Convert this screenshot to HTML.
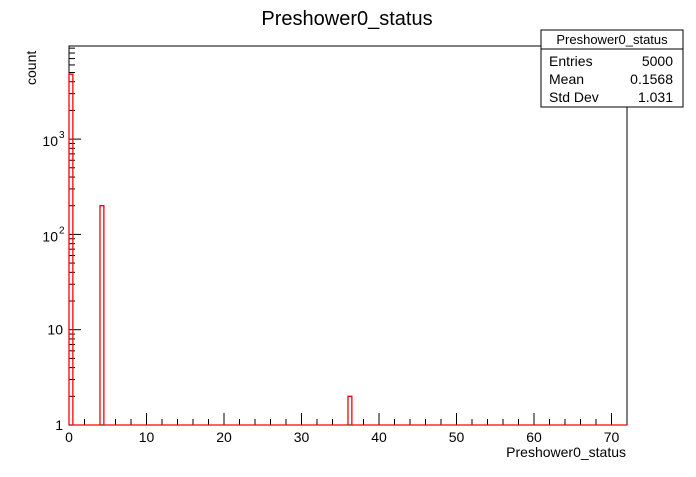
<!DOCTYPE html>
<html><head><meta charset="utf-8"><style>
body{margin:0;background:#fff;font-family:"Liberation Sans",sans-serif}
</style></head><body>
<svg width="696" height="472" xmlns="http://www.w3.org/2000/svg" font-family="Liberation Sans, sans-serif">
<rect width="696" height="472" fill="#fff"/>
<text x="347" y="25" font-size="20" text-anchor="middle">Preshower0_status</text>
<rect x="69" y="46" width="558" height="379" fill="none" stroke="#000"/>
<g id="axes"></g>
<path id="hist" fill="none" stroke="#f00" stroke-width="1.3"/>
<text x="626" y="457" font-size="14" text-anchor="end">Preshower0_status</text>
<text transform="translate(36,85) rotate(-90)" font-size="14">count</text>
<g>
<rect x="541" y="30" width="142" height="77" fill="#fff" stroke="#000"/>
<line x1="541" y1="49" x2="683" y2="49" stroke="#000"/>
<text x="612" y="44" font-size="13" text-anchor="middle">Preshower0_status</text>
<text x="549" y="66" font-size="14">Entries</text><text x="673" y="66" font-size="14" text-anchor="end">5000</text>
<text x="549" y="84" font-size="14">Mean</text><text x="673" y="84" font-size="14" text-anchor="end">0.1568</text>
<text x="549" y="102" font-size="14">Std Dev</text><text x="673" y="102" font-size="14" text-anchor="end">1.031</text>
</g>
</svg>
<script>
const binEdges=[0,4,36];
const binCounts=[4798,200,2];
const binWidth=0.5;
const xTicks=[0,10,20,30,40,50,60,70];
const yTicks=[1,10,100,1000];
const yTickLabels=["1","10","10²","10³"];
const X0=69,X1=627,XMAX=72,Y0=425,DEC=95.3;
const sx=v=>X0+v*(X1-X0)/XMAX;
const sy=v=>Y0-Math.log10(v)*DEC;
const ns="http://www.w3.org/2000/svg";
const ax=document.getElementById('axes');
function ln(x1,y1,x2,y2){const l=document.createElementNS(ns,'line');l.setAttribute('x1',x1);l.setAttribute('y1',y1);l.setAttribute('x2',x2);l.setAttribute('y2',y2);l.setAttribute('stroke','#000');ax.appendChild(l);}
function tx(x,y,s,a){const t=document.createElementNS(ns,'text');t.setAttribute('x',x);t.setAttribute('y',y);t.setAttribute('font-size','14');t.setAttribute('text-anchor',a);t.textContent=s;


ax.appendChild(t);}
for(let v=0;v<=XMAX;v+=2){const x=sx(v);ln(x,Y0,x,Y0-(v%10==0?12:6));}
xTicks.forEach(v=>tx(sx(v),442,String(v),'middle'));
for(let d=1;d<=1000;d*=10){for(let m=1;m<10;m++){const v=d*m;const y=sy(v);if(y<46)continue;ln(X0,y,X0+(m==1?12:6),y);}}
yTicks.forEach((v,i)=>{const y=sy(v);if(i<2)tx(63,y+5,yTickLabels[i],'end');else{tx(58,y+7,'10','end');const t=document.createElementNS(ns,'text');t.setAttribute('x',59);t.setAttribute('y',y-1);t.setAttribute('font-size','10');t.textContent=String(i);


ax.appendChild(t);}});
let d='M'+X0+','+Y0;
binEdges.forEach((e,i)=>{const a=sx(e),b=sx(e+binWidth),y=sy(binCounts[i]);d+=' L'+a+','+Y0+' L'+a+','+y+' L'+b+','+y+' L'+b+','+Y0;});
d+=' L'+X1+','+Y0;
document.getElementById('hist').setAttribute('d',d);
</script>
</body></html>
